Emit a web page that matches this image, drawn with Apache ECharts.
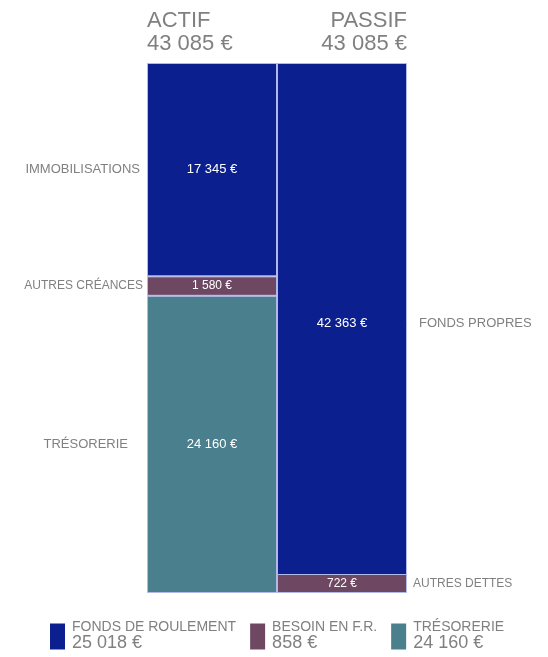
<!DOCTYPE html>
<html>
<head>
<meta charset="utf-8">
<script src="https://cdn.jsdelivr.net/npm/echarts@6/dist/echarts.min.js"></script>
<style>
html,body{margin:0;padding:0;background:#fff;}
#chart{width:548px;height:657px;}
</style>
</head>
<body>
<div id="chart"></div>
<script>
// ---- data ----
const columns = ['ACTIF', 'PASSIF'];
const actifNames = ['IMMOBILISATIONS', 'AUTRES CRÉANCES', 'TRÉSORERIE'];
const actifValues = [17345, 1580, 24160];
const passifNames = ['FONDS PROPRES', 'AUTRES DETTES'];
const passifValues = [42363, 722];
const legendNames = ['FONDS DE ROULEMENT', 'BESOIN EN F.R.', 'TRÉSORERIE'];
const legendValues = [25018, 858, 24160];

// ---- styles ----
const FONT = 'Liberation Sans, Arial, sans-serif';
const GRAY = '#808080';
const BLUE = '#0c1f8f';
const PURPLE = '#6e4762';
const TEAL = '#4a7f8e';
const BORDER = '#b3b9e6';

const actifColors = [BLUE, PURPLE, TEAL];
const passifColors = [BLUE, PURPLE];
const legendColors = [BLUE, PURPLE, TEAL];
const actifValueFont = [13, 12, 13];
const actifNameFont = [13, 12, 13];
const actifNameDist = [7, 4, 19];
const passifValueFont = [13, 12];
const passifNameFont = [13, 12];
const passifNameDist = [12, 6];
const passifMinH = [0, 19];

function eur(n) {
  return String(n).replace(/\B(?=(\d{3})+(?!\d))/g, ' ') + ' €';
}
const totalActif = actifValues.reduce((a, b) => a + b, 0);
const totalPassif = passifValues.reduce((a, b) => a + b, 0);

const series = [];
// Actif: stack from bottom (last item first)
for (let i = actifNames.length - 1; i >= 0; i--) {
  const v = actifValues[i];
  series.push({
    type: 'bar', name: actifNames[i], stack: 'a', xAxisIndex: 0,
    barCategoryGap: '0%', data: [v, '-'],
    itemStyle: { color: actifColors[i], borderColor: BORDER, borderWidth: 1 },
    label: { show: true, position: 'inside', formatter: () => eur(v),
      color: '#ffffff', fontFamily: FONT, fontSize: actifValueFont[i] },
    silent: true
  });
  series.push({
    type: 'bar', name: actifNames[i] + '_n', stack: 'b', xAxisIndex: 1,
    barCategoryGap: '0%', data: [v, '-'],
    itemStyle: { color: 'rgba(0,0,0,0)' },
    label: { show: true, position: 'left', distance: actifNameDist[i], formatter: actifNames[i],
      color: GRAY, fontFamily: FONT, fontSize: actifNameFont[i] },
    silent: true
  });
}
for (let i = passifNames.length - 1; i >= 0; i--) {
  const v = passifValues[i];
  series.push({
    type: 'bar', name: passifNames[i], stack: 'a', xAxisIndex: 0,
    barCategoryGap: '0%', data: ['-', v], barMinHeight: passifMinH[i],
    z: passifMinH[i] ? 3 : 2,
    itemStyle: { color: passifColors[i], borderColor: BORDER, borderWidth: 1 },
    label: { show: true, position: 'inside', formatter: () => eur(v),
      color: '#ffffff', fontFamily: FONT, fontSize: passifValueFont[i] },
    silent: true
  });
  series.push({
    type: 'bar', name: passifNames[i] + '_n', stack: 'b', xAxisIndex: 1,
    barCategoryGap: '0%', data: ['-', v], barMinHeight: passifMinH[i],
    itemStyle: { color: 'rgba(0,0,0,0)' },
    label: { show: true, position: 'right', distance: passifNameDist[i], formatter: passifNames[i],
      color: GRAY, fontFamily: FONT, fontSize: passifNameFont[i] },
    silent: true
  });
}
// legend-only series
legendNames.forEach((n, i) => {
  series.push({ type: 'bar', name: n + ' ', stack: 'a', xAxisIndex: 0, data: [],
    itemStyle: { color: legendColors[i] } });
});

const option = {
  animation: false,
  backgroundColor: '#ffffff',
  title: [
    { text: columns[0] + '\n' + eur(totalActif), left: 147, top: 9, padding: 0,
      textStyle: { color: GRAY, fontFamily: FONT, fontSize: 22, fontWeight: 'normal', lineHeight: 23 } },
    { text: columns[1] + '\n' + eur(totalPassif), left: 407, top: 9, padding: 0, textAlign: 'right',
      textStyle: { color: GRAY, fontFamily: FONT, fontSize: 22, fontWeight: 'normal', lineHeight: 23 } }
  ],
  grid: { left: 147, right: 141, top: 63, bottom: 64, containLabel: false },
  xAxis: [
    { type: 'category', data: columns, show: false },
    { type: 'category', data: columns, show: false }
  ],
  yAxis: { type: 'value', min: 0, max: totalActif, show: false },
  legend: {
    data: legendNames.map(n => n + ' '), left: 50, top: 620, padding: 0, itemGap: 14,
    itemWidth: 15, itemHeight: 26, icon: 'rect', selectedMode: false,
    itemStyle: { borderWidth: 0 },
    formatter: name => {
      const n = name.trim();
      return '{a|' + n + '}\n{b|' + eur(legendValues[legendNames.indexOf(n)]) + '}';
    },
    textStyle: { color: GRAY, fontFamily: FONT, padding: [0, 0, 0, 2],
      rich: { a: { fontSize: 14, lineHeight: 14, color: GRAY, fontFamily: FONT },
              b: { fontSize: 18, lineHeight: 19, color: GRAY, fontFamily: FONT } } }
  },
  series: series
};

const chart = echarts.init(document.getElementById('chart'), null, { renderer: 'canvas' });
chart.setOption(option);
</script>
</body>
</html>
